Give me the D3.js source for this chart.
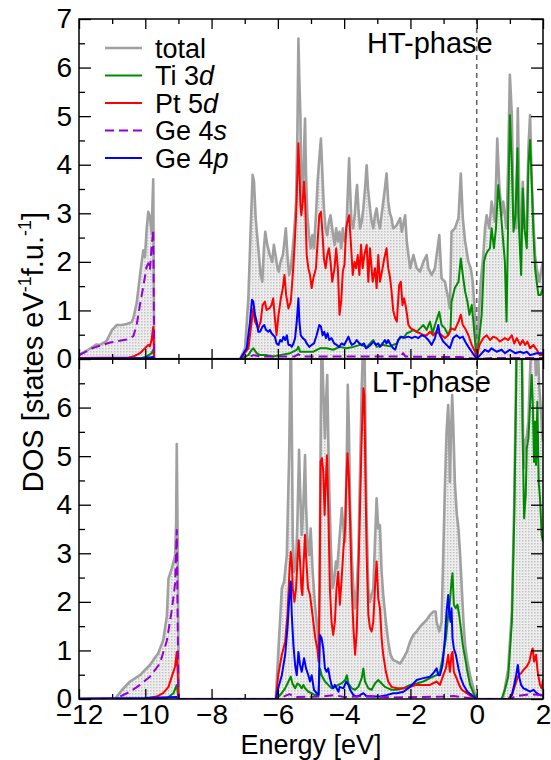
<!DOCTYPE html>
<html>
<head>
<meta charset="utf-8">
<script src="https://cdn.jsdelivr.net/npm/d3@7"></script>
<style>
  body { margin: 0; background: #fff; }
  text { font-family: "Liberation Sans", Arial, sans-serif; fill: #000; }
</style>
</head>
<body>
<div id="chart"></div>
<script>
// ---- data: [energy (eV), DOS] pairs ----
const xTicks = [-12, -10, -8, -6, -4, -2, 0, 2];
const xMinorTicks = [-11, -9, -7, -5, -3, -1, 1];
const yTicksTop = [0, 1, 2, 3, 4, 5, 6, 7];
const yTicksBottom = [0, 1, 2, 3, 4, 5, 6];
const yMinorTicks = [0.5, 1.5, 2.5, 3.5, 4.5, 5.5, 6.5];
const legendLabels = [['total', ''], ['Ti 3', 'd'], ['Pt 5', 'd'], ['Ge 4', 's'], ['Ge 4', 'p']];
const phaseLabels = ['HT-phase', 'LT-phase'];

const htTotal = [
  [-12.0,0.08],[-11.77,0.17],[-11.47,0.30],[-11.37,0.29],[-11.17,0.37],[-11.0,0.60],[-10.86,0.70],[-10.71,0.70],[-10.56,0.72],[-10.41,0.76],[-10.36,0.84],[-10.26,1.15],[-10.16,1.72],[-10.06,2.24],[-10.01,2.1],[-9.96,2.66],[-9.91,3.03],[-9.86,2.93],[-9.81,2.59],[-9.76,3.70],[-9.73,0],
  [-7.14,0],[-6.99,0.22],[-6.89,1.25],[-6.82,2.69],[-6.76,3.79],[-6.72,3.65],[-6.67,2.90],[-6.59,2.28],[-6.52,1.73],[-6.47,1.59],[-6.42,2.28],[-6.38,2.62],[-6.32,2.35],[-6.24,2.14],[-6.17,2.0],[-6.12,2.35],[-6.07,2.14],[-6.01,1.87],[-5.97,1.8],[-5.92,2.0],[-5.85,2.14],[-5.80,2.42],[-5.76,2.69],[-5.71,2.14],[-5.66,1.73],[-5.61,1.87],[-5.55,2.28],[-5.50,2.69],[-5.45,3.24],[-5.41,4.68],[-5.38,6.60],[-5.35,5.71],[-5.32,5.02],[-5.29,3.38],[-5.25,3.24],[-5.21,4.34],[-5.18,4.95],[-5.15,3.79],[-5.11,2.96],[-5.06,2.55],[-5.01,2.28],[-4.96,2.55],[-4.91,2.28],[-4.85,2.96],[-4.80,3.65],[-4.75,4.13],[-4.70,4.54],[-4.66,3.86],[-4.61,3.10],[-4.56,2.69],[-4.51,2.55],[-4.46,2.83],[-4.41,2.96],[-4.36,2.69],[-4.29,2.35],[-4.24,2.69],[-4.19,2.42],[-4.14,2.62],[-4.09,2.28],[-4.04,2.69],[-3.99,2.42],[-3.94,2.55],[-3.90,3.24],[-3.85,4.13],[-3.82,3.51],[-3.78,2.83],[-3.73,2.69],[-3.68,2.96],[-3.64,3.38],[-3.61,3.58],[-3.57,3.10],[-3.52,2.69],[-3.47,2.83],[-3.42,3.10],[-3.37,3.51],[-3.32,3.99],[-3.28,3.51],[-3.22,3.10],[-3.17,2.83],[-3.12,2.69],[-3.07,2.96],[-3.02,3.10],[-2.97,2.83],[-2.92,2.69],[-2.87,2.96],[-2.82,3.24],[-2.77,3.51],[-2.72,3.82],[-2.67,3.24],[-2.62,3.0],[-2.57,2.9],[-2.52,2.69],[-2.42,2.75],[-2.31,2.90],[-2.26,2.62],[-2.16,2.96],[-2.11,2.42],[-2.01,1.87],[-1.91,2.14],[-1.81,1.87],[-1.71,1.80],[-1.61,2.0],[-1.51,2.14],[-1.46,1.87],[-1.36,1.73],[-1.26,1.87],[-1.13,2.55],[-1.06,1.66],[-0.96,1.59],[-0.86,1.25],[-0.81,1.04],[-0.76,2.62],[-0.66,2.69],[-0.55,2.90],[-0.48,3.82],[-0.42,2.90],[-0.35,2.42],[-0.25,2.0],[-0.18,1.87],[-0.12,1.59],[-0.05,0.91],[0,0],[0.05,0.70],[0.12,1.59],[0.20,2.14],[0.25,2.69],[0.30,2.96],[0.38,2.69],[0.45,3.24],[0.55,2.83],[0.62,4.54],[0.68,3.58],[0.75,2.96],[0.80,3.24],[0.85,2.96],[0.90,2.69],[0.95,4.06],[1.00,5.85],[1.06,5.02],[1.11,2.96],[1.19,2.69],[1.24,5.16],[1.29,3.10],[1.34,2.28],[1.39,3.65],[1.44,2.69],[1.51,2.83],[1.56,4.34],[1.61,5.02],[1.66,3.65],[1.71,2.83],[1.76,2.14],[1.81,1.87],[1.89,1.59],[1.96,1.87],[2.0,2.0]
];
const htTi3d = [
  [-12.0,0],[-10.1,0.02],[-9.96,0.05],[-9.81,0.12],[-9.76,0.19],[-9.73,0],
  [-7.14,0],[-6.89,0.08],[-6.79,0.19],[-6.74,0.22],[-6.64,0.12],[-6.54,0.08],[-6.34,0.08],[-6.14,0.05],[-5.94,0.08],[-5.63,0.12],[-5.43,0.19],[-5.38,0.25],[-5.33,0.15],[-5.13,0.15],[-4.93,0.15],[-4.73,0.22],[-4.53,0.22],[-4.33,0.19],[-4.13,0.25],[-3.92,0.22],[-3.72,0.25],[-3.52,0.29],[-3.32,0.25],[-3.12,0.39],[-3.02,0.25],[-2.82,0.29],[-2.62,0.26],[-2.52,0.29],[-2.41,0.32],[-2.36,0.39],[-2.31,0.46],[-2.21,0.43],[-2.11,0.53],[-2.01,0.56],[-1.91,0.60],[-1.81,0.56],[-1.71,0.63],[-1.61,0.70],[-1.51,0.60],[-1.41,0.77],[-1.33,0.53],[-1.26,0.70],[-1.13,0.97],[-1.06,0.70],[-0.96,0.63],[-0.86,0.49],[-0.79,0.63],[-0.76,1.18],[-0.66,1.46],[-0.55,1.59],[-0.48,2.07],[-0.42,1.73],[-0.35,1.39],[-0.28,1.18],[-0.22,0.91],[-0.15,1.11],[-0.10,0.77],[-0.05,0.36],[0,0],[0.05,0.29],[0.15,0.91],[0.22,2.0],[0.27,2.14],[0.32,2.21],[0.40,2.28],[0.45,2.69],[0.52,2.28],[0.58,2.69],[0.65,3.58],[0.70,3.24],[0.75,2.83],[0.85,2.0],[0.90,0.77],[0.95,2.96],[1.00,5.02],[1.06,3.99],[1.11,2.62],[1.17,2.96],[1.23,4.34],[1.26,2.96],[1.34,1.73],[1.39,3.51],[1.44,2.69],[1.51,2.28],[1.56,3.99],[1.61,4.51],[1.66,3.65],[1.71,2.62],[1.76,1.87],[1.81,1.59],[1.86,1.32],[1.93,1.32],[2.0,1.46]
];
const htPt5d = [
  [-12.0,0.02],[-10.5,0.03],[-10.36,0.05],[-10.16,0.12],[-10.01,0.22],[-9.91,0.29],[-9.86,0.26],[-9.81,0.39],[-9.76,0.66],[-9.73,0],
  [-7.14,0],[-6.89,0.22],[-6.79,0.77],[-6.74,1.04],[-6.69,0.77],[-6.59,0.63],[-6.52,0.77],[-6.46,1.11],[-6.39,1.18],[-6.34,1.01],[-6.26,1.04],[-6.19,1.11],[-6.14,1.25],[-6.09,0.84],[-6.04,0.49],[-5.98,0.91],[-5.91,1.25],[-5.85,1.46],[-5.80,1.73],[-5.75,1.32],[-5.68,1.04],[-5.61,1.18],[-5.55,1.73],[-5.50,2.28],[-5.45,2.96],[-5.41,3.79],[-5.38,4.44],[-5.35,3.86],[-5.32,3.17],[-5.29,2.96],[-5.25,3.24],[-5.21,3.65],[-5.18,3.31],[-5.13,2.14],[-5.08,1.87],[-5.03,1.73],[-4.98,1.46],[-4.93,1.66],[-4.85,1.87],[-4.80,2.42],[-4.75,2.96],[-4.70,3.03],[-4.65,2.55],[-4.61,2.07],[-4.56,1.87],[-4.51,2.14],[-4.46,2.28],[-4.41,2.0],[-4.36,1.59],[-4.29,1.87],[-4.24,2.28],[-4.19,1.87],[-4.14,0.91],[-4.09,1.18],[-4.04,1.8],[-3.99,1.94],[-3.94,2.69],[-3.90,2.83],[-3.85,2.96],[-3.80,2.42],[-3.74,1.73],[-3.69,2.0],[-3.64,1.87],[-3.59,2.14],[-3.54,1.73],[-3.49,2.35],[-3.44,1.87],[-3.39,2.14],[-3.32,2.35],[-3.27,1.59],[-3.22,2.28],[-3.14,1.59],[-3.07,1.87],[-3.02,1.46],[-2.97,2.14],[-2.92,1.59],[-2.84,1.87],[-2.79,2.07],[-2.72,2.28],[-2.67,1.87],[-2.62,1.7],[-2.57,1.4],[-2.52,1.0],[-2.46,0.84],[-2.41,0.77],[-2.34,1.52],[-2.29,1.59],[-2.24,1.11],[-2.19,1.25],[-2.13,1.04],[-2.06,0.70],[-1.99,0.63],[-1.91,0.60],[-1.81,0.56],[-1.71,0.53],[-1.61,0.49],[-1.51,0.49],[-1.41,0.56],[-1.31,0.49],[-1.21,0.56],[-1.06,0.49],[-0.96,0.43],[-0.86,0.49],[-0.76,0.63],[-0.66,0.60],[-0.55,0.77],[-0.48,0.91],[-0.42,0.70],[-0.35,0.63],[-0.25,0.49],[-0.15,0.29],[-0.05,0.15],[0,0],[0.08,0.29],[0.20,0.43],[0.30,0.49],[0.40,0.39],[0.50,0.46],[0.60,0.43],[0.70,0.36],[0.85,0.43],[0.95,0.39],[1.06,0.49],[1.13,0.32],[1.21,0.43],[1.31,0.29],[1.39,0.39],[1.46,0.29],[1.53,0.36],[1.61,0.22],[1.71,0.29],[1.81,0.19],[1.91,0.08],[2.0,0.08]
];
const htGe4s = [
  [-12.0,0.08],[-11.57,0.23],[-11.06,0.34],[-10.56,0.40],[-10.36,0.47],[-10.26,0.70],[-10.16,1.12],[-10.06,1.49],[-9.96,1.9],[-9.91,1.97],[-9.86,1.83],[-9.81,2.31],[-9.76,2.66],[-9.73,0],
  [-7.14,0],[-6.9,0.03],[-6.74,0.08],[-6.5,0.05],[-5.5,0.05],[-5.38,0.1],[-5.3,0.05],[-3.0,0.05],[-2.3,0.05],[-2.22,0.12],[-2.15,0.05],[-0.5,0.04],[0,0],[0.5,0.02],[2.0,0.02]
];
const htGe4p = [
  [-12.0,0.01],[-10.0,0.02],[-9.76,0.04],[-9.73,0],
  [-7.14,0],[-6.94,0.22],[-6.84,0.77],[-6.78,1.22],[-6.74,1.18],[-6.69,0.91],[-6.64,0.77],[-6.59,0.56],[-6.54,0.56],[-6.46,0.67],[-6.41,0.70],[-6.36,0.60],[-6.29,0.56],[-6.24,0.60],[-6.19,0.53],[-6.14,0.49],[-6.09,0.46],[-6.04,0.32],[-5.98,0.29],[-5.93,0.39],[-5.88,0.36],[-5.83,0.46],[-5.78,0.39],[-5.73,0.49],[-5.68,0.29],[-5.63,0.29],[-5.58,0.25],[-5.53,0.32],[-5.48,0.43],[-5.43,0.77],[-5.38,1.25],[-5.35,0.77],[-5.31,0.49],[-5.25,0.43],[-5.18,0.39],[-5.13,0.32],[-5.05,0.25],[-4.98,0.29],[-4.91,0.32],[-4.83,0.49],[-4.75,0.70],[-4.70,0.67],[-4.65,0.49],[-4.60,0.56],[-4.55,0.43],[-4.50,0.53],[-4.45,0.39],[-4.38,0.43],[-4.30,0.32],[-4.23,0.29],[-4.15,0.25],[-4.08,0.32],[-4.0,0.29],[-3.92,0.39],[-3.87,0.46],[-3.82,0.36],[-3.77,0.29],[-3.69,0.32],[-3.62,0.39],[-3.54,0.32],[-3.47,0.29],[-3.40,0.32],[-3.34,0.22],[-3.27,0.25],[-3.20,0.29],[-3.12,0.36],[-3.04,0.29],[-2.97,0.32],[-2.92,0.25],[-2.84,0.32],[-2.77,0.39],[-2.72,0.32],[-2.67,0.39],[-2.62,0.32],[-2.52,0.22],[-2.46,0.19],[-2.37,0.39],[-2.27,0.46],[-2.16,0.44],[-2.06,0.46],[-1.96,0.43],[-1.86,0.46],[-1.76,0.43],[-1.66,0.49],[-1.56,0.46],[-1.46,0.39],[-1.36,0.29],[-1.26,0.43],[-1.16,0.70],[-1.11,0.49],[-1.01,0.36],[-0.91,0.29],[-0.81,0.22],[-0.71,0.43],[-0.61,0.49],[-0.51,0.43],[-0.42,0.46],[-0.35,0.36],[-0.25,0.25],[-0.15,0.15],[-0.05,0.05],[0,0],[0.10,0.08],[0.25,0.19],[0.35,0.15],[0.45,0.22],[0.60,0.15],[0.75,0.19],[0.85,0.12],[1.0,0.19],[1.16,0.12],[1.31,0.15],[1.41,0.12],[1.51,0.15],[1.61,0.08],[1.81,0.12],[2.0,0.12]
];

const ltTotal = [
  [-12.0,0],[-10.91,0],[-10.86,0.05],[-10.71,0.18],[-10.46,0.36],[-10.16,0.49],[-9.86,0.70],[-9.61,0.94],[-9.46,1.21],[-9.35,1.70],[-9.30,2.48],[-9.20,2.69],[-9.10,2.95],[-9.07,3.6],[-9.05,5.25],[-9.02,3.0],[-8.99,0],
  [-6.06,0],[-5.99,0.91],[-5.88,2.28],[-5.81,2.42],[-5.73,2.96],[-5.66,5.0],[-5.63,6.4],[-5.61,7.6],[-5.58,5.71],[-5.55,3.31],[-5.51,2.62],[-5.45,2.83],[-5.41,3.65],[-5.36,5.13],[-5.33,4.34],[-5.28,3.38],[-5.23,4.0],[-5.18,5.02],[-5.15,4.0],[-5.10,3.10],[-5.05,2.96],[-5.01,3.51],[-4.95,2.62],[-4.88,1.94],[-4.81,1.46],[-4.76,1.11],[-4.73,3.5],[-4.70,6.05],[-4.68,7.6],[-4.63,6.4],[-4.58,5.37],[-4.55,6.05],[-4.51,6.67],[-4.48,5.37],[-4.45,4.34],[-4.40,3.10],[-4.35,2.28],[-4.30,2.42],[-4.25,2.83],[-4.21,2.69],[-4.14,3.31],[-4.07,3.93],[-4.02,3.51],[-3.97,3.24],[-3.92,5.02],[-3.89,6.47],[-3.86,5.71],[-3.82,4.0],[-3.77,2.96],[-3.72,2.28],[-3.67,1.87],[-3.62,2.28],[-3.57,2.96],[-3.52,4.68],[-3.47,6.4],[-3.42,7.5],[-3.39,7.5],[-3.36,5.71],[-3.32,3.65],[-3.27,2.28],[-3.22,2.0],[-3.17,2.14],[-3.12,2.28],[-3.07,3.24],[-3.02,4.13],[-2.97,3.51],[-2.92,3.58],[-2.87,2.62],[-2.82,2.14],[-2.74,1.59],[-2.67,1.18],[-2.60,0.91],[-2.52,0.80],[-2.41,0.77],[-2.31,0.73],[-2.21,0.84],[-2.11,0.97],[-2.01,1.18],[-1.91,1.32],[-1.81,1.39],[-1.71,1.49],[-1.61,1.56],[-1.51,1.63],[-1.41,1.73],[-1.31,1.80],[-1.24,1.80],[-1.21,1.59],[-1.13,1.39],[-1.06,1.59],[-1.01,2.96],[-0.96,4.34],[-0.91,5.50],[-0.86,6.05],[-0.83,5.37],[-0.81,4.47],[-0.78,5.37],[-0.74,6.26],[-0.71,5.71],[-0.66,4.47],[-0.60,3.79],[-0.55,3.51],[-0.50,2.96],[-0.45,2.28],[-0.40,1.59],[-0.35,1.11],[-0.28,0.77],[-0.20,0.49],[-0.10,0.22],[0,0],[0.78,0],[0.85,0.22],[0.95,0.62],[1.06,1.8],[1.13,4.0],[1.19,6.8],[1.22,8.0],[1.34,8.0],[1.38,6.5],[1.41,4.75],[1.46,5.3],[1.51,5.4],[1.56,5.71],[1.61,6.74],[1.66,7.5],[1.73,7.5],[1.79,6.67],[1.84,7.3],[1.89,6.4],[1.96,5.71],[2.0,5.3]
];
const ltTi3d = [
  [-12.0,0],[-9.4,0],[-9.3,0.04],[-9.15,0.12],[-9.05,0.29],[-9.0,0],
  [-6.06,0],[-5.93,0.08],[-5.78,0.22],[-5.68,0.36],[-5.61,0.46],[-5.56,0.32],[-5.48,0.22],[-5.41,0.32],[-5.35,0.29],[-5.28,0.22],[-5.23,0.29],[-5.18,0.22],[-5.08,0.15],[-4.98,0.12],[-4.88,0.08],[-4.78,0.08],[-4.73,0.63],[-4.68,0.49],[-4.58,0.36],[-4.48,0.29],[-4.38,0.22],[-4.28,0.25],[-4.18,0.29],[-4.08,0.32],[-3.97,0.39],[-3.92,0.49],[-3.87,0.32],[-3.77,0.22],[-3.67,0.19],[-3.57,0.25],[-3.47,0.43],[-3.42,0.63],[-3.37,0.36],[-3.27,0.22],[-3.17,0.19],[-3.07,0.32],[-2.97,0.39],[-2.87,0.32],[-2.77,0.25],[-2.67,0.22],[-2.57,0.19],[-2.41,0.19],[-2.21,0.22],[-2.01,0.29],[-1.81,0.32],[-1.61,0.36],[-1.41,0.43],[-1.21,0.49],[-1.11,0.56],[-1.01,0.91],[-0.93,1.25],[-0.86,1.73],[-0.81,2.0],[-0.76,2.42],[-0.73,2.59],[-0.69,1.94],[-0.63,1.87],[-0.58,1.94],[-0.53,1.73],[-0.48,1.46],[-0.42,1.11],[-0.35,0.84],[-0.28,0.56],[-0.20,0.29],[-0.10,0.12],[0,0],[0.75,0],[0.85,0.19],[0.95,0.46],[1.06,1.59],[1.13,3.65],[1.19,6.4],[1.22,9.0],[1.34,9.0],[1.38,5.71],[1.43,3.72],[1.48,4.2],[1.51,5.16],[1.56,5.37],[1.61,6.05],[1.66,6.67],[1.69,6.12],[1.73,4.88],[1.76,5.71],[1.79,4.82],[1.83,6.12],[1.87,4.47],[1.91,4.13],[1.96,3.38],[2.0,3.24]
];
const ltPt5d = [
  [-12.0,0],[-10.0,0.01],[-9.66,0.05],[-9.46,0.12],[-9.3,0.25],[-9.2,0.46],[-9.1,0.67],[-9.05,0.97],[-9.02,0.5],[-9.0,0],
  [-6.06,0],[-5.99,0.49],[-5.88,0.91],[-5.78,1.18],[-5.71,1.73],[-5.65,2.62],[-5.61,3.03],[-5.58,2.83],[-5.55,2.28],[-5.50,2.0],[-5.45,2.28],[-5.41,2.83],[-5.37,3.27],[-5.33,2.83],[-5.29,2.28],[-5.26,2.14],[-5.23,2.69],[-5.18,3.38],[-5.14,2.83],[-5.09,2.28],[-5.03,2.14],[-4.98,1.87],[-4.93,1.59],[-4.87,1.25],[-4.81,1.04],[-4.77,0.77],[-4.74,2.28],[-4.71,4.89],[-4.67,4.96],[-4.63,4.68],[-4.59,3.79],[-4.55,4.54],[-4.52,5.02],[-4.48,3.99],[-4.43,2.28],[-4.38,1.59],[-4.33,1.32],[-4.28,1.59],[-4.23,2.28],[-4.18,2.62],[-4.13,1.94],[-4.08,2.42],[-4.02,3.10],[-3.97,3.51],[-3.94,4.34],[-3.90,5.06],[-3.86,4.61],[-3.82,3.65],[-3.77,2.28],[-3.72,1.46],[-3.67,0.91],[-3.62,1.39],[-3.57,2.62],[-3.52,3.99],[-3.47,5.37],[-3.42,6.40],[-3.39,6.26],[-3.36,4.68],[-3.32,2.96],[-3.27,1.73],[-3.22,1.46],[-3.17,1.39],[-3.12,1.59],[-3.07,2.28],[-3.02,2.83],[-2.97,2.07],[-2.92,1.87],[-2.87,1.25],[-2.82,0.91],[-2.74,0.56],[-2.67,0.36],[-2.57,0.25],[-2.41,0.22],[-2.21,0.22],[-2.01,0.25],[-1.81,0.29],[-1.61,0.29],[-1.41,0.29],[-1.21,0.36],[-1.11,0.29],[-1.01,0.49],[-0.93,0.63],[-0.86,0.91],[-0.81,0.56],[-0.76,0.91],[-0.73,0.97],[-0.69,0.56],[-0.61,0.43],[-0.53,0.29],[-0.45,0.19],[-0.30,0.12],[-0.15,0.05],[0,0],[0.95,0],[1.06,0.08],[1.16,0.29],[1.26,0.49],[1.34,0.53],[1.41,0.60],[1.51,0.67],[1.59,0.77],[1.65,0.97],[1.69,1.04],[1.73,0.77],[1.79,0.91],[1.84,0.56],[1.91,0.29],[1.96,0.22],[2.0,0.4]
];
const ltGe4s = [
  [-12.0,0],[-10.9,0],[-10.76,0.05],[-10.46,0.15],[-10.16,0.29],[-9.86,0.46],[-9.56,0.73],[-9.35,1.2],[-9.20,1.83],[-9.10,2.38],[-9.05,3.48],[-9.0,0],
  [-6.06,0],[-5.9,0.03],[-5.65,0.1],[-5.5,0.04],[-4.7,0.05],[-4.3,0.08],[-4.0,0.04],[-3.3,0.06],[-2.5,0.03],[-1.0,0.05],[-0.7,0.06],[0,0],[1.0,0],[1.2,0.06],[1.6,0.1],[2.0,0.08]
];
const ltGe4p = [
  [-12.0,0.01],[-10.0,0.02],[-9.05,0.04],[-9.0,0],
  [-6.06,0],[-5.99,0.22],[-5.88,0.49],[-5.78,0.91],[-5.71,1.46],[-5.65,2.14],[-5.61,2.42],[-5.58,1.73],[-5.53,1.11],[-5.48,0.70],[-5.43,0.49],[-5.38,0.97],[-5.33,0.70],[-5.28,0.56],[-5.21,0.84],[-5.15,0.63],[-5.08,0.49],[-5.03,0.36],[-4.98,0.49],[-4.91,0.19],[-4.83,0.12],[-4.77,0.08],[-4.73,1.32],[-4.68,1.25],[-4.63,1.04],[-4.58,0.63],[-4.53,0.56],[-4.48,0.63],[-4.43,0.43],[-4.38,0.29],[-4.33,0.22],[-4.28,0.29],[-4.23,0.22],[-4.17,0.15],[-4.14,0.25],[-4.02,0.22],[-3.94,0.36],[-3.87,0.29],[-3.82,0.19],[-3.72,0.08],[-3.62,0.05],[-3.52,0.08],[-3.42,0.12],[-3.32,0.05],[-3.12,0.05],[-2.92,0.05],[-2.72,0.08],[-2.52,0.12],[-2.41,0.12],[-2.21,0.15],[-2.01,0.25],[-1.81,0.39],[-1.61,0.43],[-1.41,0.46],[-1.31,0.53],[-1.21,0.63],[-1.16,0.49],[-1.11,0.49],[-1.03,0.70],[-0.96,1.25],[-0.91,1.80],[-0.86,2.14],[-0.83,1.80],[-0.79,1.59],[-0.76,1.87],[-0.73,1.25],[-0.69,1.04],[-0.63,0.91],[-0.55,0.63],[-0.48,0.43],[-0.40,0.29],[-0.28,0.15],[-0.15,0.08],[0,0],[1.0,0],[1.06,0.08],[1.13,0.29],[1.19,0.49],[1.24,0.70],[1.29,0.43],[1.34,0.29],[1.41,0.22],[1.51,0.19],[1.61,0.15],[1.71,0.19],[1.81,0.12],[1.91,0.08],[2.0,0.07]
];

// ---- layout ----
const svgCanvas = {width: 551, height: 760};
const plot = {left: 79, right: 543, top: 19, mid: 359, bottom: 699};
const tickFont = 28;

const seriesStyle = [
  {color: '#a0a0a0', width: 2.6, dash: null},      // total
  {color: '#008a00', width: 2, dash: null},        // Ti 3d
  {color: '#ff0000', width: 2, dash: null},        // Pt 5d
  {color: '#9400d3', width: 2, dash: '9,5'},       // Ge 4s
  {color: '#0000ff', width: 2, dash: null}         // Ge 4p
];
const drawOrder = [0, 1, 2, 4, 3];

const xScale = d3.scaleLinear().domain([-12, 2]).range([plot.left, plot.right]);
const yTop = d3.scaleLinear().domain([0, 7]).range([plot.mid, plot.top]);
const yBottom = d3.scaleLinear().domain([0, 7]).range([plot.bottom, plot.mid]);

const panels = [
  {id: 'ht', y: yTop, series: [htTotal, htTi3d, htPt5d, htGe4s, htGe4p], yLabels: yTicksTop, xLabels: false, phase: phaseLabels[0], phasePos: [367, 53]},
  {id: 'lt', y: yBottom, series: [ltTotal, ltTi3d, ltPt5d, ltGe4s, ltGe4p], yLabels: yTicksBottom, xLabels: true, phase: phaseLabels[1], phasePos: [372, 392]}
];

const svg = d3.select('#chart').append('svg')
  .attr('width', svgCanvas.width)
  .attr('height', svgCanvas.height);

const defs = svg.append('defs');
const pattern = defs.append('pattern')
  .attr('id', 'dots')
  .attr('width', 3).attr('height', 3)
  .attr('patternUnits', 'userSpaceOnUse');
pattern.append('rect').attr('width', 3).attr('height', 3).attr('fill', '#eeeeee');
pattern.append('rect').attr('width', 1.5).attr('height', 1.5).attr('fill', '#c2c2c2');

panels.forEach(p => {
  const y = p.y;
  const y0 = y.range()[0], y1 = y.range()[1];
  defs.append('clipPath').attr('id', 'clip-' + p.id)
    .append('rect')
    .attr('x', plot.left).attr('y', y1)
    .attr('width', plot.right - plot.left).attr('height', y0 - y1);

  const g = svg.append('g').attr('clip-path', `url(#clip-${p.id})`);

  const area = d3.area().x(d => xScale(d[0])).y0(y(0)).y1(d => y(d[1]));
  g.append('path').datum(p.series[0])
    .attr('d', area)
    .attr('fill', 'url(#dots)');

  const line = d3.line().x(d => xScale(d[0])).y(d => y(d[1]));
  drawOrder.forEach(i => {
    const s = seriesStyle[i];
    g.append('path').datum(p.series[i])
      .attr('d', line)
      .attr('fill', 'none')
      .attr('stroke', s.color)
      .attr('stroke-width', s.width)
      .attr('stroke-linejoin', 'round')
      .attr('stroke-dasharray', s.dash);
  });
});

// zero energy line
svg.append('line')
  .attr('x1', xScale(0)).attr('x2', xScale(0))
  .attr('y1', plot.top).attr('y2', plot.bottom)
  .attr('stroke', '#666').attr('stroke-width', 1.6)
  .attr('stroke-dasharray', '5,4');

// axes with inward ticks
function styleAxis(sel) {
  sel.select('.domain').remove();
  sel.selectAll('line').attr('stroke', '#000').attr('stroke-width', 1.3);
  sel.selectAll('text')
    .attr('font-size', tickFont)
    .attr('font-family', '"Liberation Sans", Arial, sans-serif');
  sel.attr('font-size', null).attr('font-family', null);
}

panels.forEach(p => {
  const y = p.y;
  const y0 = y.range()[0], y1 = y.range()[1];

  styleAxis(svg.append('g').attr('transform', `translate(${plot.left},0)`)
    .call(d3.axisLeft(y).tickValues(p.yLabels).tickSizeInner(-12).tickSizeOuter(0).tickPadding(7).tickFormat(d3.format('d'))));
  styleAxis(svg.append('g').attr('transform', `translate(${plot.left},0)`)
    .call(d3.axisLeft(y).tickValues(yMinorTicks).tickSizeInner(-6).tickSizeOuter(0).tickFormat('')));
  styleAxis(svg.append('g').attr('transform', `translate(${plot.right},0)`)
    .call(d3.axisRight(y).tickValues(p.yLabels).tickSizeInner(-12).tickSizeOuter(0).tickFormat('')));
  styleAxis(svg.append('g').attr('transform', `translate(${plot.right},0)`)
    .call(d3.axisRight(y).tickValues(yMinorTicks).tickSizeInner(-6).tickSizeOuter(0).tickFormat('')));

  styleAxis(svg.append('g').attr('transform', `translate(0,${y1})`)
    .call(d3.axisTop(xScale).tickValues(xTicks).tickSizeInner(-10).tickSizeOuter(0).tickFormat('')));
  styleAxis(svg.append('g').attr('transform', `translate(0,${y1})`)
    .call(d3.axisTop(xScale).tickValues(xMinorTicks).tickSizeInner(-5).tickSizeOuter(0).tickFormat('')));
  styleAxis(svg.append('g').attr('transform', `translate(0,${y0})`)
    .call(d3.axisBottom(xScale).tickValues(xTicks).tickSizeInner(-10).tickSizeOuter(0).tickPadding(5)
      .tickFormat(p.xLabels ? d3.format('d') : '')));
  styleAxis(svg.append('g').attr('transform', `translate(0,${y0})`)
    .call(d3.axisBottom(xScale).tickValues(xMinorTicks).tickSizeInner(-5).tickSizeOuter(0).tickFormat('')));

  svg.append('rect')
    .attr('x', plot.left).attr('y', y1)
    .attr('width', plot.right - plot.left).attr('height', y0 - y1)
    .attr('fill', 'none').attr('stroke', '#000').attr('stroke-width', 1.5);

  svg.append('text')
    .attr('x', p.phasePos[0]).attr('y', p.phasePos[1])
    .attr('font-size', 29)
    .text(p.phase);
});

// legend
const legend = svg.append('g');
legendLabels.forEach((lab, i) => {
  const s = seriesStyle[i];
  const ly = 48 + i * 27.5;
  legend.append('line')
    .attr('x1', 105).attr('x2', 142).attr('y1', ly).attr('y2', ly)
    .attr('stroke', s.color).attr('stroke-width', s.width)
    .attr('stroke-dasharray', s.dash);
  const t = legend.append('text')
    .attr('x', 155).attr('y', ly + 9.5)
    .attr('font-size', 27);
  t.append('tspan').text(lab[0]);
  if (lab[1]) t.append('tspan').attr('font-style', 'italic').text(lab[1]);
});

// axis titles
svg.append('text')
  .attr('x', (plot.left + plot.right) / 2).attr('y', 754)
  .attr('text-anchor', 'middle')
  .attr('font-size', 27)
  .text('Energy [eV]');

const yTitle = svg.append('text')
  .attr('transform', `translate(43,352) rotate(-90)`)
  .attr('text-anchor', 'middle')
  .attr('font-size', 29);
yTitle.append('tspan').text('DOS [states eV');
yTitle.append('tspan').attr('font-size', 18).attr('dy', -12).text('-1');
yTitle.append('tspan').attr('dy', 12).text('f.u.');
yTitle.append('tspan').attr('font-size', 18).attr('dy', -12).text('-1');
yTitle.append('tspan').attr('dy', 12).text(']');
</script>
</body>
</html>
